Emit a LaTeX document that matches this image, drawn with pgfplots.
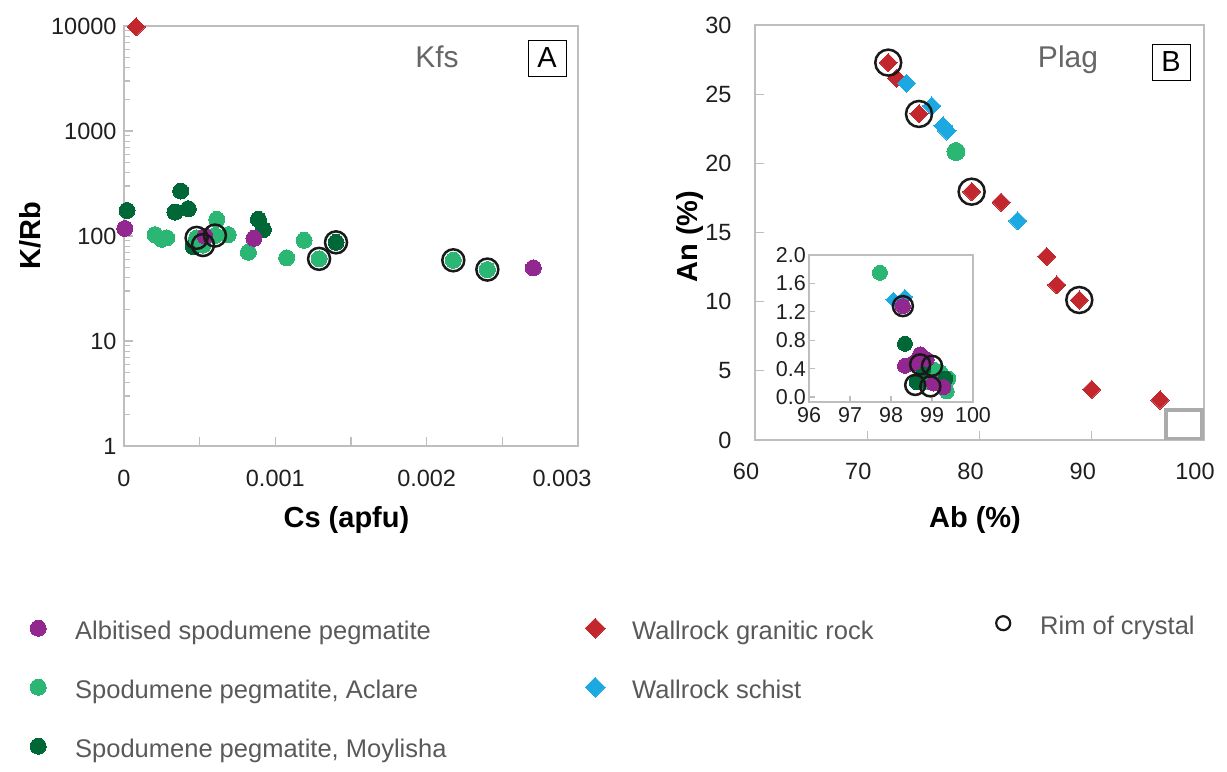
\documentclass[border=0pt]{standalone}
\usepackage{fontspec}
\setmainfont{Liberation Sans}
\usepackage{pgfplots}
\pgfplotsset{compat=1.18}
\definecolor{cpurple}{HTML}{92278F}
\definecolor{clgreen}{HTML}{2BB673}
\definecolor{cdgreen}{HTML}{006837}
\definecolor{cred}{HTML}{C1272D}
\definecolor{cblue}{HTML}{1CA9E1}
\definecolor{caxis}{HTML}{BEBEBE}
\pgfplotsset{
  base/.style={scale only axis, clip=false,
    axis line style={caxis, line width=1.5bp},
    tick style={caxis, line width=1.3bp},
    tick align=inside, major tick length=9bp, minor tick length=6bp,
    xtick pos=bottom, ytick pos=left,
    scaled x ticks=false, scaled y ticks=false,
    ticklabel style={font=\fontsize{23.5bp}{28bp}\selectfont, text=black!88},
    label style={font=\fontsize{29bp}{34bp}\selectfont\bfseries, text=black}},
  circA/.style={only marks, mark=*, mark size=8bp, mark options={line width=0pt}},
  circB/.style={only marks, mark=*, mark size=9bp, mark options={line width=0pt}},
  circI/.style={only marks, mark=*, mark size=7.5bp, mark options={line width=0pt}},
  diaB/.style={only marks, mark=square*, mark size=6.4bp, mark options={rotate=45, line width=0pt}},
  diaI/.style={only marks, mark=square*, mark size=5.3bp, mark options={rotate=45, line width=0pt}},
  ring/.style={only marks, mark=o, color=black!90, mark options={line width=2.5bp}},
  legimg/.style={legend image code/.code={\path[draw=none, fill=none] (0bp,0bp) (45bp,16bp);
      \path[##1] plot coordinates {(10bp,5bp)};}},
  legax/.style={hide axis, scale only axis, width=1227bp, height=772bp, at={(0,0)}, anchor=south west,
    xmin=0, xmax=1227, ymin=0, ymax=772,
    legend cell align=left,
    legend style={draw=none, fill=none, inner sep=0pt, row sep=31bp, anchor=north west,
      nodes={font=\fontsize{25.5bp}{30bp}\selectfont, text=black!65, text height=18bp, text depth=6bp, inner ysep=0pt}}}
}
\begin{document}
\begin{tikzpicture}
\path[use as bounding box] (0,0) rectangle (1227bp,772bp);

% ---------------- Panel A ----------------
\begin{axis}[base, at={(124bp,326bp)}, anchor=south west, width=454bp, height=420bp,
  xmin=0, xmax=0.003, ymode=log, ymin=1, ymax=10000,
  xtick={0,0.001,0.002,0.003}, xticklabels={0,0.001,0.002,{\hspace*{-32bp}0.003}},
  minor xtick={0.0005,0.0015,0.0025}, minor x tick style={/pgfplots/minor tick length=9bp},
  ytick={1,10,100,1000,10000}, yticklabels={1,10,100,1000,10000},
  xticklabel style={yshift=-21bp}, yticklabel style={xshift=-4bp},
  xlabel={Cs (apfu)}, ylabel={K/Rb},
  xlabel style={at={(axis description cs:0.49,-0.176)}, anchor=center},
  ylabel style={at={(axis description cs:-0.207,0.5)}, anchor=center},
]
\addplot[circA, color=cdgreen] coordinates {
 (0.00002,175) (0.000337,169) (0.000375,268) (0.000425,182) (0.000458,79)
 (0.000888,144) (0.000921,115) (0.001401,87)};
\addplot[circA, color=clgreen] coordinates {
 (0.000205,103) (0.000249,93) (0.000282,96) (0.00048,96) (0.000522,82)
 (0.000601,101) (0.000613,144) (0.000689,103) (0.000822,70) (0.001075,62)
 (0.00119,91) (0.001289,60.6) (0.002176,58.7) (0.002401,47.9)};
\addplot[circA, color=cpurple] coordinates {
 (0.000005,118) (0.000535,99.6) (0.000859,95) (0.002705,49.7)};
\addplot[diaB, color=cred] coordinates {(0.00008,9800)};
\addplot[ring, mark size=11bp] coordinates {
 (0.00048,96) (0.000522,82) (0.000601,101) (0.001289,60.6) (0.001401,87)
 (0.002176,58.7) (0.002401,47.9)};
\end{axis}

% ---------------- Panel B ----------------
\begin{axis}[base, at={(755bp,332bp)}, anchor=south west, width=449bp, height=415bp,
  xmin=60, xmax=100, ymin=0, ymax=30,
  xtick={60,70,80,90,100}, xticklabels={60,70,80,90,100},
  ytick={0,5,10,15,20,25,30}, yticklabels={0,5,10,15,20,25,30},
  xticklabel style={yshift=-20bp, xshift=-9bp}, yticklabel style={xshift=-20bp},
  xlabel={Ab (\%)}, ylabel={An (\%)},
  xlabel style={at={(axis description cs:0.49,-0.193)}, anchor=center},
  ylabel style={at={(axis description cs:-0.145,0.49)}, anchor=center},
]
\addplot[diaB, color=cred] coordinates {
 (71.87,27.28) (72.62,26.15) (74.61,23.57) (79.3,17.95) (81.92,17.19)
 (85.98,13.26) (86.88,11.21) (88.89,10.12) (90.0,3.66) (96.08,2.89)};
\addplot[diaB, color=cblue] coordinates {
 (73.51,25.79) (75.74,24.15) (76.75,22.7) (77.1,22.34) (83.4,15.84)};
\addplot[circB, color=clgreen] coordinates {(77.9,20.85)};
\addplot[ring, mark size=13bp] coordinates {
 (71.87,27.28) (74.61,23.57) (79.3,17.95) (88.89,10.12)};
\draw[color=black!33, line width=3.5bp] (axis cs:96.6,0.1) rectangle (axis cs:99.8,2.17);
\end{axis}

% ---------------- Inset ----------------
\begin{axis}[base, at={(809bp,370bp)}, anchor=south west, width=164bp, height=147bp,
  xmin=96, xmax=100, ymin=-0.07, ymax=2,
  axis background/.style={fill=white},
  major tick length=6bp,
  xtick={96,97,98,99,100}, xticklabels={96,97,98,99,100},
  ytick={0,0.4,0.8,1.2,1.6,2.0}, yticklabels={0.0,0.4,0.8,1.2,1.6,2.0},
  ticklabel style={font=\fontsize{21.5bp}{26bp}\selectfont},
  xticklabel style={inner sep=3bp, yshift=-2bp}, yticklabel style={inner sep=3bp},
]
\addplot[circI, color=clgreen] coordinates {
 (97.73,1.75) (99.40,0.26) (99.36,0.08) (99.20,0.35) (99.04,0.39) (98.87,0.21)};
\addplot[circI, color=cdgreen] coordinates {
 (98.34,0.75) (98.63,0.21) (99.32,0.26) (98.79,0.39)};
\addplot[diaI, color=cblue] coordinates {(98.06,1.37) (98.34,1.41)};
\addplot[circI, color=cpurple] coordinates {
 (98.29,1.28) (98.34,0.44) (98.71,0.60) (98.87,0.53) (99.04,0.19) (99.28,0.14) (98.55,0.48)};
\addplot[ring, mark size=10bp] coordinates {
 (98.29,1.28) (98.71,0.46) (99.0,0.44) (98.59,0.17) (98.96,0.15)};
\end{axis}

% panel titles
\node[text=black!60, font=\fontsize{30bp}{36bp}\selectfont] at (437bp,715bp) {Kfs};
\node[draw=black, line width=0.9bp, minimum width=38bp, minimum height=36bp, inner sep=0pt,
  font=\fontsize{29bp}{34bp}\selectfont] at (547bp,714bp) {A};
\node[text=black!60, font=\fontsize{30bp}{36bp}\selectfont] at (1068bp,712bp) {Plag};
\node[draw=black, line width=0.9bp, minimum width=38bp, minimum height=36bp, inner sep=0pt,
  font=\fontsize{29bp}{34bp}\selectfont] at (1171bp,710bp) {B};

% ---------------- Legends ----------------
\begin{axis}[legax, legend style={at={(28/1227,155/772)}}]
\addlegendimage{legimg, mark=*, mark size=8bp, mark options={draw=cpurple, fill=cpurple, line width=0pt}}
\addlegendentry{Albitised spodumene pegmatite}
\addlegendimage{legimg, mark=*, mark size=8bp, mark options={draw=clgreen, fill=clgreen, line width=0pt}}
\addlegendentry{Spodumene pegmatite, Aclare}
\addlegendimage{legimg, mark=*, mark size=8bp, mark options={draw=cdgreen, fill=cdgreen, line width=0pt}}
\addlegendentry{Spodumene pegmatite, Moylisha}
\end{axis}
\begin{axis}[legax, legend style={at={(585/1227,155/772)}}]
\addlegendimage{legimg, mark=square*, mark size=7bp, mark options={rotate=45, draw=cred, fill=cred, line width=0pt}}
\addlegendentry{Wallrock granitic rock}
\addlegendimage{legimg, mark=square*, mark size=7bp, mark options={rotate=45, draw=cblue, fill=cblue, line width=0pt}}
\addlegendentry{Wallrock schist}
\end{axis}
\begin{axis}[legax, legend style={at={(993/1227,160/772)}}]
\addlegendimage{legimg, mark=o, mark size=7bp, mark options={draw=black!90, line width=2.2bp}}
\addlegendentry{Rim of crystal}
\end{axis}
\end{tikzpicture}
\end{document}
